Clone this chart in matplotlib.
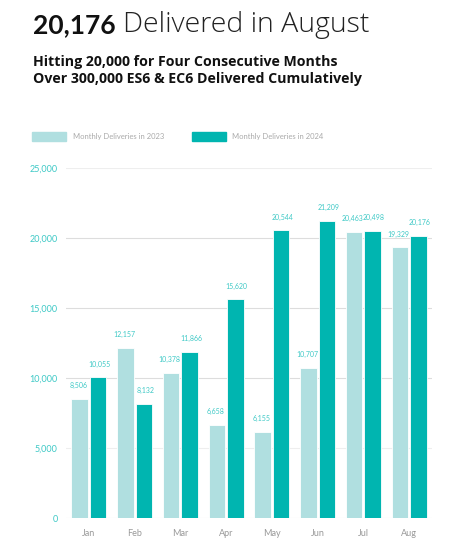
import matplotlib.pyplot as plt
import numpy as np

months = ["Jan", "Feb", "Mar", "Apr", "May", "Jun", "Jul", "Aug"]
deliv_2023 = [8506, 12157, 10378, 6658, 6155, 10707, 20463, 19329]
deliv_2024 = [10055, 8132, 11866, 15620, 20544, 21209, 20498, 20176]
yticks = [0, 5000, 10000, 15000, 20000, 25000]

c23 = "#b0dfe0"
c24 = "#00b5b0"
teal_txt = "#3ec9c6"

plt.rcParams["font.family"] = ["Lato", "DejaVu Sans"]

fig = plt.figure(figsize=(4.70, 5.56), dpi=100)
ax = fig.add_axes([66 / 470, 1 - 518 / 556, 366 / 470, 350 / 556])

x = np.arange(len(months))
w = 0.36
x23 = x - w / 2 - 0.02
x24 = x + w / 2 + 0.02
ax.bar(x23, deliv_2023, w, color=c23, edgecolor="white", linewidth=0.6, zorder=3)
ax.bar(x24, deliv_2024, w, color=c24, edgecolor="white", linewidth=0.6, zorder=3)

for i in range(len(months)):
    ax.annotate(f"{deliv_2023[i]:,}", (x23[i], deliv_2023[i]), xytext=(-1, 7),
                textcoords="offset points", ha="center", va="bottom", fontsize=5, color=teal_txt)
    ax.annotate(f"{deliv_2024[i]:,}", (x24[i], deliv_2024[i]), xytext=(1, 7),
                textcoords="offset points", ha="center", va="bottom", fontsize=5, color=teal_txt)

ax.set_xlim(-0.5, len(months) - 0.5)
ax.set_ylim(0, 25000)
ax.set_yticks(yticks)
ax.set_yticklabels([f"{v:,}" for v in yticks], color=teal_txt, fontsize=6.5)
ax.set_xticks(x)
ax.set_xticklabels(months, color="#999999", fontsize=6.5)
ax.tick_params(length=0, pad=8)
ax.tick_params(axis="y", pad=6)
ax.grid(axis="y", color="#dddddd", linewidth=0.8, zorder=0)
ax.get_ygridlines()[-1].set_color("#eeeeee")
ax.get_ygridlines()[1].set_color("#eeeeee")
for s in ax.spines.values():
    s.set_visible(False)

# titles
fig.text(33 / 470, 1 - 25 / 556, "20,176", fontsize=19, fontweight="bold", color="#111111", va="center")
fig.text(123 / 470, 1 - 25 / 556, "Delivered in August", fontsize=20.5, fontweight="light", color="#222222",
         va="center", family=["Open Sans", "DejaVu Sans"])
fig.text(33 / 470, 1 - 62 / 556, "Hitting 20,000 for Four Consecutive Months", fontsize=10.2, fontweight="bold",
         color="#111111", va="center", family=["Open Sans", "DejaVu Sans"])
fig.text(33 / 470, 1 - 79 / 556, "Over 300,000 ES6 & EC6 Delivered Cumulatively", fontsize=10.2, fontweight="bold",
         color="#111111", va="center", family=["Open Sans", "DejaVu Sans"])

# legend
fig.patches.append(plt.Rectangle((32 / 470, 1 - 141 / 556), 34 / 470, 9 / 556, transform=fig.transFigure,
                                 color=c23, figure=fig))
fig.text(73 / 470, 1 - 136.5 / 556, "Monthly Deliveries in 2023", fontsize=5.5, color="#aaaaaa", va="center")
fig.patches.append(plt.Rectangle((192 / 470, 1 - 141 / 556), 34 / 470, 9 / 556, transform=fig.transFigure,
                                 color=c24, figure=fig))
fig.text(232 / 470, 1 - 136.5 / 556, "Monthly Deliveries in 2024", fontsize=5.5, color="#aaaaaa", va="center")

fig.savefig("out.png", dpi=100)
